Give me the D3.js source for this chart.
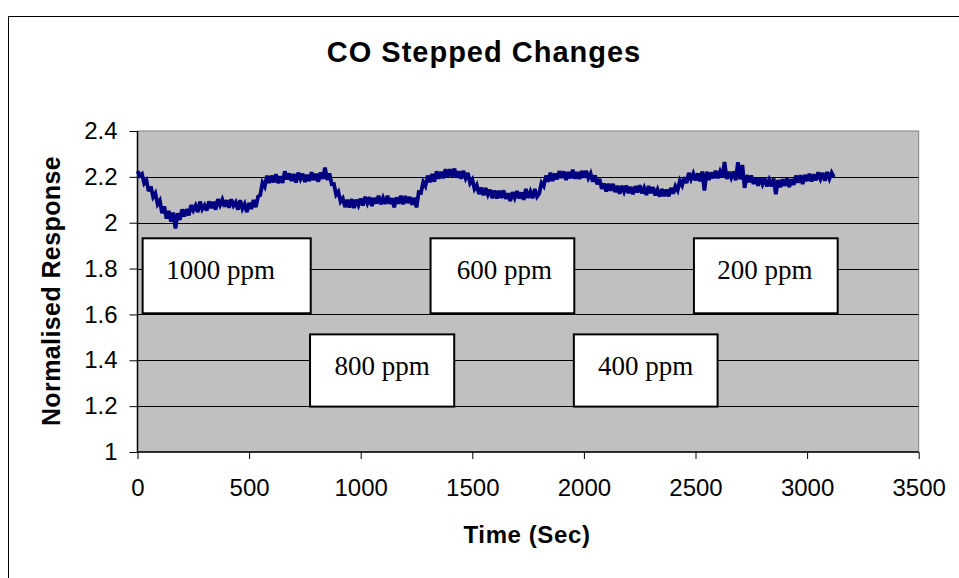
<!DOCTYPE html>
<html>
<head>
<meta charset="utf-8">
<script src="https://cdn.jsdelivr.net/npm/d3@7"></script>
<style>
  html, body { margin: 0; padding: 0; background: #ffffff; }
  svg { display: block; }
</style>
</head>
<body>
<svg id="chart" width="959" height="578"></svg>
<script>
// Normalised sensor response sampled every 10 s (t = 0 … 3120 s)
const sampleInterval = 10;
const response = [
  2.225, 2.205, 2.213, 2.172, 2.185, 2.138, 2.158, 2.112, 2.128, 2.081, 2.097, 2.042, 2.071, 2.018, 2.052, 2.005, 2.044, 1.975, 2.041, 2.012,
  2.058, 2.027, 2.059, 2.032, 2.077, 2.054, 2.075, 2.046, 2.092, 2.059, 2.076, 2.053, 2.093, 2.064, 2.091, 2.057, 2.103, 2.077, 2.101, 2.070,
  2.098, 2.065, 2.102, 2.074, 2.089, 2.057, 2.098, 2.061, 2.082, 2.046, 2.086, 2.060, 2.099, 2.068, 2.114, 2.120, 2.174, 2.157, 2.205, 2.174,
  2.205, 2.176, 2.211, 2.173, 2.202, 2.174, 2.224, 2.189, 2.215, 2.182, 2.212, 2.175, 2.218, 2.191, 2.214, 2.178, 2.209, 2.182, 2.220, 2.186,
  2.213, 2.179, 2.219, 2.191, 2.240, 2.187, 2.215, 2.168, 2.169, 2.122, 2.135, 2.092, 2.106, 2.068, 2.100, 2.066, 2.103, 2.064, 2.100, 2.076,
  2.105, 2.075, 2.113, 2.085, 2.111, 2.073, 2.108, 2.084, 2.118, 2.080, 2.108, 2.082, 2.118, 2.083, 2.107, 2.067, 2.110, 2.083, 2.118, 2.081,
  2.116, 2.086, 2.112, 2.079, 2.109, 2.067, 2.133, 2.130, 2.177, 2.160, 2.205, 2.177, 2.212, 2.179, 2.224, 2.192, 2.222, 2.194, 2.233, 2.202,
  2.233, 2.202, 2.236, 2.197, 2.224, 2.192, 2.226, 2.194, 2.217, 2.173, 2.188, 2.147, 2.164, 2.125, 2.153, 2.120, 2.151, 2.122, 2.144, 2.107,
  2.140, 2.106, 2.139, 2.108, 2.141, 2.104, 2.128, 2.095, 2.133, 2.108, 2.138, 2.106, 2.132, 2.100, 2.147, 2.108, 2.135, 2.107, 2.147, 2.114,
  2.128, 2.174, 2.160, 2.205, 2.179, 2.218, 2.182, 2.214, 2.189, 2.225, 2.195, 2.224, 2.186, 2.221, 2.194, 2.231, 2.192, 2.221, 2.191, 2.226,
  2.196, 2.226, 2.195, 2.215, 2.179, 2.206, 2.168, 2.191, 2.148, 2.171, 2.136, 2.170, 2.140, 2.169, 2.134, 2.161, 2.126, 2.161, 2.135, 2.162,
  2.129, 2.156, 2.124, 2.159, 2.132, 2.163, 2.129, 2.152, 2.121, 2.160, 2.129, 2.155, 2.119, 2.144, 2.114, 2.147, 2.116, 2.144, 2.115, 2.152,
  2.127, 2.159, 2.141, 2.183, 2.163, 2.198, 2.173, 2.217, 2.189, 2.214, 2.184, 2.215, 2.181, 2.223, 2.140, 2.222, 2.187, 2.219, 2.194, 2.227,
  2.194, 2.223, 2.198, 2.265, 2.191, 2.222, 2.196, 2.223, 2.185, 2.264, 2.189, 2.252, 2.152, 2.208, 2.177, 2.206, 2.169, 2.196, 2.161, 2.194,
  2.168, 2.195, 2.158, 2.186, 2.159, 2.193, 2.124, 2.186, 2.155, 2.189, 2.161, 2.194, 2.156, 2.190, 2.165, 2.205, 2.175, 2.207, 2.169, 2.208,
  2.182, 2.213, 2.180, 2.211, 2.185, 2.220, 2.191, 2.217, 2.183, 2.221, 2.192, 2.218, 2.199
];

// Axis ticks
const xTicks = [0, 500, 1000, 1500, 2000, 2500, 3000, 3500];
const xTickLabels = ["0", "500", "1000", "1500", "2000", "2500", "3000", "3500"];
const yTicks = [1, 1.2, 1.4, 1.6, 1.8, 2, 2.2, 2.4];
const yTickLabels = ["1", "1.2", "1.4", "1.6", "1.8", "2", "2.2", "2.4"];

// Concentration step labels
const stepLabels = ["1000 ppm", "800 ppm", "600 ppm", "400 ppm", "200 ppm"];

// Label box extents in data units: [t0, t1, yTop, yBottom]
const stepBoxes = [
  [23, 776, 1.932, 1.605],
  [773, 1419, 1.513, 1.198],
  [1313, 1957, 1.932, 1.605],
  [1955, 2599, 1.513, 1.198],
  [2493, 3137, 1.932, 1.605]
];
const stepLabelShift = [-6, 0, 2, 0, -1];

const svg = d3.select("#chart");
const W = 959, H = 578;
const plot = { left: 137.5, right: 918.7, top: 131, bottom: 452 };

const x = d3.scaleLinear().domain([0, 3500]).range([plot.left, plot.right]);
const y = d3.scaleLinear().domain([1, 2.4]).range([plot.bottom, plot.top]);

const sansFont = "'Liberation Sans', Arial, sans-serif";
const serifFont = "'Liberation Serif', 'Times New Roman', serif";

// Chart frame (left and top edges; the rest lies past the page edge)
svg.append("path")
  .attr("d", `M8.5,${H}V16.5H${W}`)
  .attr("fill", "none").attr("stroke", "#000000").attr("stroke-width", 1);

// Plot area
svg.append("rect")
  .attr("x", plot.left).attr("y", plot.top)
  .attr("width", plot.right - plot.left).attr("height", plot.bottom - plot.top)
  .attr("fill", "#c0c0c0").attr("stroke", "#808080").attr("stroke-width", 1);

// Horizontal gridlines
svg.append("g").selectAll("line")
  .data(yTicks.filter(v => v > 1 && v < 2.4))
  .join("line")
  .attr("x1", plot.left).attr("x2", plot.right)
  .attr("y1", d => Math.round(y(d)) + 0.5).attr("y2", d => Math.round(y(d)) + 0.5)
  .attr("stroke", "#000000").attr("stroke-width", 1);

// Axes
const yAxis = d3.axisLeft(y)
  .tickValues(yTicks)
  .tickFormat((d, i) => yTickLabels[i])
  .tickSize(8).tickPadding(12);
const gy = svg.append("g").attr("transform", `translate(${plot.left},0)`).call(yAxis);

const xAxis = d3.axisBottom(x)
  .tickValues(xTicks)
  .tickFormat((d, i) => xTickLabels[i])
  .tickSize(7).tickPadding(20);
const gx = svg.append("g").attr("transform", `translate(0,${plot.bottom})`).call(xAxis);

[gx, gy].forEach(g => {
  g.select(".domain").attr("stroke", "#000000").attr("stroke-width", 1.5);
  g.selectAll(".tick line").attr("stroke", "#000000");
  g.selectAll(".tick text")
    .attr("fill", "#000000")
    .style("font-family", sansFont)
    .style("font-size", "24px");
});
gy.select(".domain").attr("d", `M0,${plot.bottom}V${plot.top}`);
gx.select(".domain").attr("d", `M${plot.left},0H${plot.right}`);

// Response trace
const line = d3.line()
  .x((d, i) => x(i * sampleInterval))
  .y(d => y(d));
svg.append("path")
  .datum(response)
  .attr("d", line)
  .attr("fill", "none")
  .attr("stroke", "#000080")
  .attr("stroke-width", 3.8)
  .attr("stroke-linejoin", "miter")
  .attr("stroke-miterlimit", 3);

// Step label boxes
const boxes = svg.append("g").selectAll("g")
  .data(stepLabels)
  .join("g");
boxes.append("rect")
  .attr("x", (d, i) => x(stepBoxes[i][0]))
  .attr("y", (d, i) => y(stepBoxes[i][2]))
  .attr("width", (d, i) => x(stepBoxes[i][1]) - x(stepBoxes[i][0]))
  .attr("height", (d, i) => y(stepBoxes[i][3]) - y(stepBoxes[i][2]))
  .attr("fill", "#ffffff").attr("stroke", "#000000").attr("stroke-width", 2);
boxes.append("text")
  .attr("x", (d, i) => (x(stepBoxes[i][0]) + x(stepBoxes[i][1])) / 2 + stepLabelShift[i])
  .attr("y", (d, i) => y(stepBoxes[i][2]) + 41)
  .attr("text-anchor", "middle")
  .style("font-family", serifFont)
  .style("font-size", "27px")
  .attr("fill", "#000000")
  .text(d => d);

// Titles
svg.append("text")
  .attr("x", 484).attr("y", 62)
  .attr("text-anchor", "middle")
  .style("font-family", sansFont).style("font-weight", "bold").style("font-size", "29px")
  .style("letter-spacing", "1px")
  .text("CO Stepped Changes");

svg.append("text")
  .attr("x", 527).attr("y", 543)
  .attr("text-anchor", "middle")
  .style("font-family", sansFont).style("font-weight", "bold").style("font-size", "24px")
  .style("letter-spacing", "0.6px")
  .text("Time (Sec)");

svg.append("text")
  .attr("transform", "translate(60,291) rotate(-90)")
  .attr("text-anchor", "middle")
  .style("font-family", sansFont).style("font-weight", "bold").style("font-size", "25px")
  .style("letter-spacing", "0.4px")
  .text("Normalised Response");
</script>
</body>
</html>
